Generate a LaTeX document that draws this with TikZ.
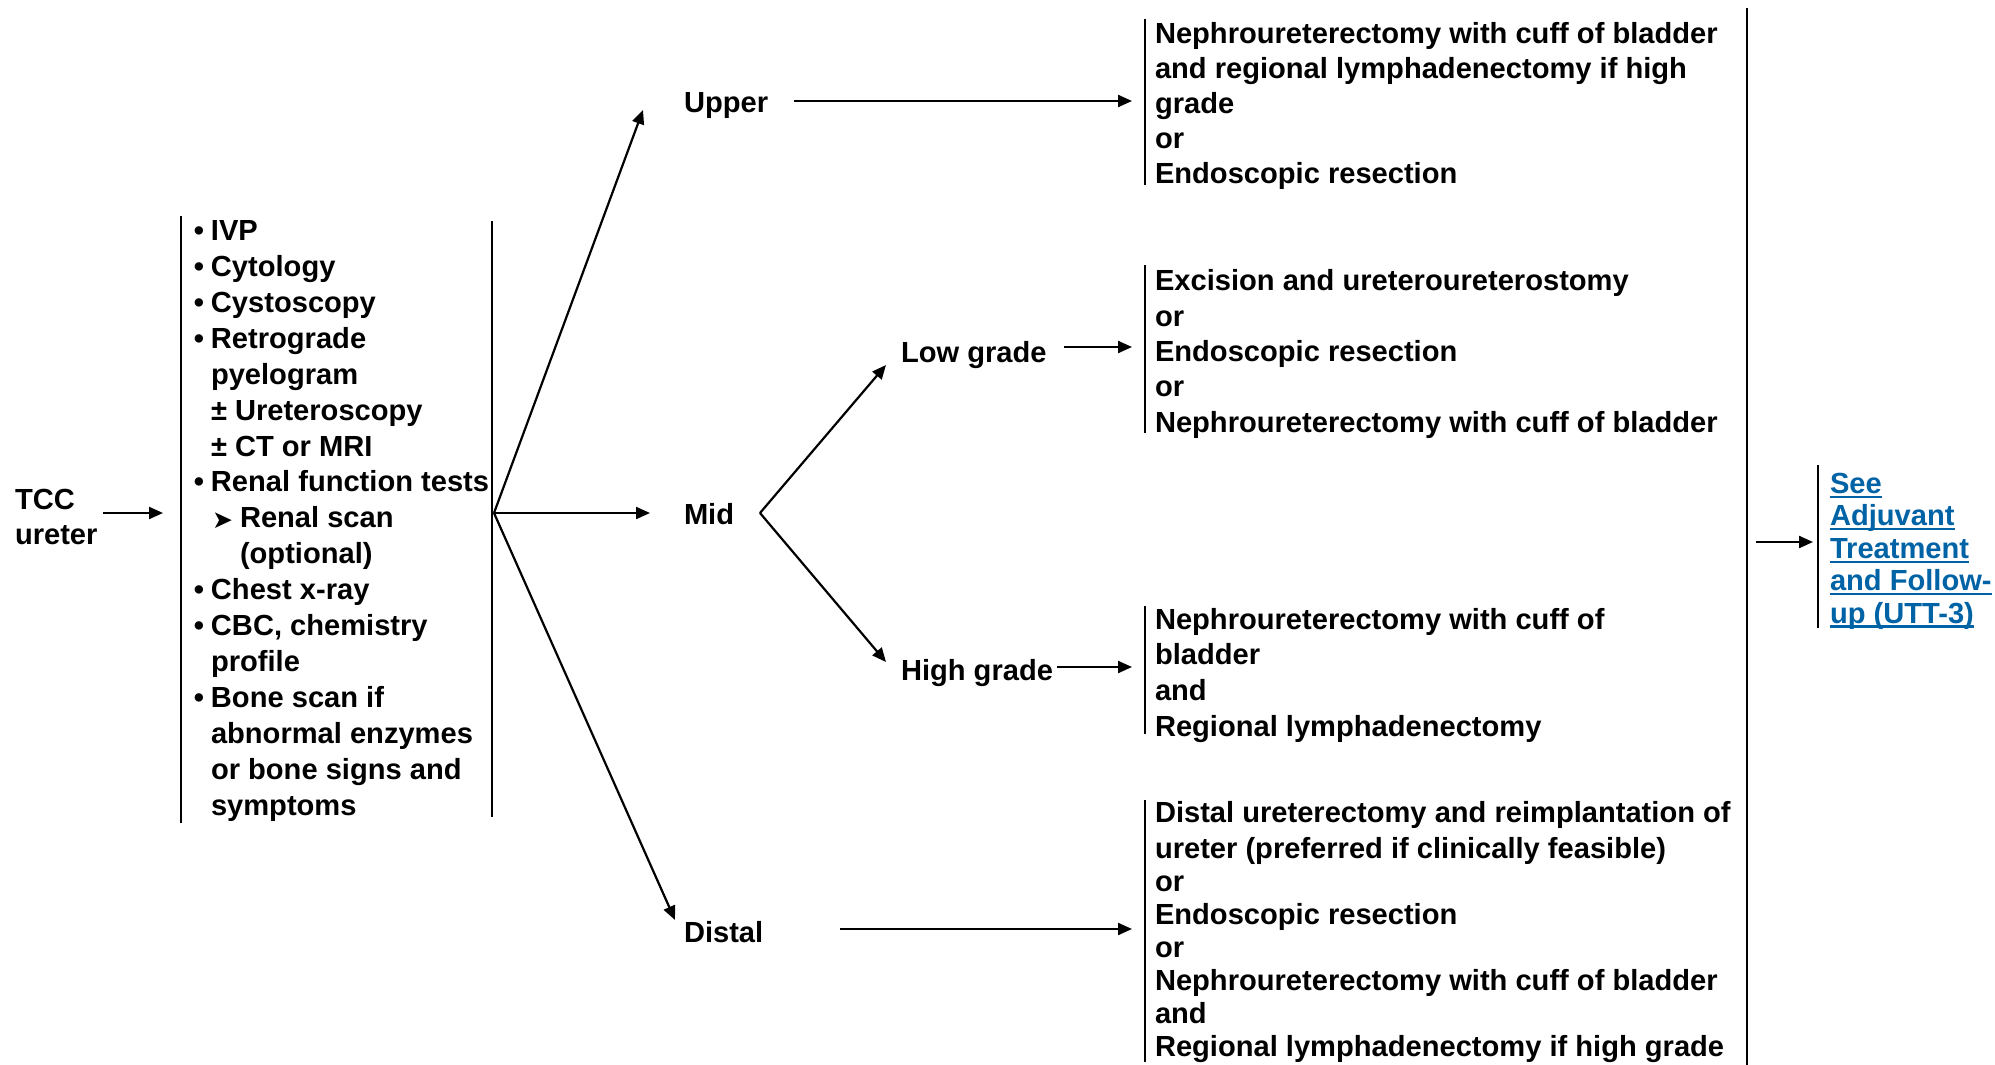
\documentclass[tikz,border=0pt]{standalone}
\usepackage{fontspec}
\setmainfont{Liberation Sans}
\newfontfamily\dingfont{DejaVu Sans}
\usetikzlibrary{arrows.meta}
\definecolor{linkblue}{RGB}{0,99,166}
\newsavebox\lnkbox
\newcommand\lnkline[1]{\sbox\lnkbox{#1}\rlap{\rule[-4.5pt]{\wd\lnkbox}{2.2pt}}\usebox\lnkbox}
\newcommand\bul{\llap{\textbullet\hspace{7pt}}}
\newcommand\subarrow{\makebox[29pt][l]{\hspace{1pt}\raisebox{-0.5pt}{\dingfont\fontsize{25}{25}\selectfont ➤}}}
\begin{document}
\begin{tikzpicture}[x=1pt, y=-1pt,
  every node/.style={inner sep=0pt, outer sep=0pt},
  % multi-line nodes are placed by the baseline of their last line
  txt/.style={anchor=base west, align=left,
    font=\bfseries\fontsize{29.1}{#1}\selectfont},
  txt/.default=35,
  arr/.style={-{Triangle[length=14pt,width=12pt]}, line width=2.2pt},
  bar/.style={line width=2.1pt}]
\useasboundingbox[fill=white] (0,0) rectangle (1995,1065);

% entry and work-up
\node[txt] (tcc) at (15,544) {TCC\\ureter};
\node[txt=35.9] (tests) at (211,815) {%
\bul IVP\\
\bul Cytology\\
\bul Cystoscopy\\
\bul Retrograde\\
pyelogram\\
± Ureteroscopy\\
± CT or MRI\\
\bul Renal function tests\\
\subarrow Renal scan\\
\hspace*{29pt}(optional)\\
\bul Chest x-ray\\
\bul CBC, chemistry\\
profile\\
\bul Bone scan if\\
abnormal enzymes\\
or bone signs and\\
symptoms};
\draw[bar] (181,216) coordinate (testsTL) -- (181,823) coordinate (testsBL);
\draw[bar] (492,221) coordinate (testsTR) -- (492,817) coordinate (testsBR);
\coordinate (testsIn) at (181,513);
\coordinate (fork) at (494,513);

% location
\node[txt] (upper) at (684,112) {Upper};
\node[txt] (mid) at (684,524) {Mid};
\node[txt] (distal) at (684,942) {Distal};
\coordinate (upperTip) at (643,110);
\coordinate (midTip) at (650,513);
\coordinate (distalTip) at (675,920);
\coordinate (midFork) at (760,513);

% grade for mid ureter
\node[txt] (low) at (901,362) {Low grade};
\node[txt] (high) at (901,680) {High grade};
\coordinate (lowTip) at (886,365);
\coordinate (highTip) at (886,662);

% treatment options
\node[txt=35] (optU) at (1155,183) {Nephroureterectomy with cuff of bladder\\
and regional lymphadenectomy if high\\grade\\or\\Endoscopic resection};
\node[txt=35.3] (optL) at (1155,432) {Excision and ureteroureterostomy\\or\\
Endoscopic resection\\or\\Nephroureterectomy with cuff of bladder};
\node[txt=35.6] (optH) at (1155,736) {Nephroureterectomy with cuff of\\bladder\\and\\
Regional lymphadenectomy};
\node[txt=33] (optD) at (1155,1056) {Distal ureterectomy and reimplantation of\\[3pt]
ureter (preferred if clinically feasible)\\or\\Endoscopic resection\\or\\
Nephroureterectomy with cuff of bladder\\and\\Regional lymphadenectomy if high grade};
\draw[bar] (1145,19) coordinate (optUT) -- (1145,185) coordinate (optUB);
\draw[bar] (1145,265) coordinate (optLT) -- (1145,433) coordinate (optLB);
\draw[bar] (1145,606) coordinate (optHT) -- (1145,734) coordinate (optHB);
\draw[bar] (1145,800) coordinate (optDT) -- (1145,1062) coordinate (optDB);
\coordinate (optUIn) at (1145,101);
\coordinate (optLIn) at (1145,347);
\coordinate (optHIn) at (1145,667);
\coordinate (optDIn) at (1145,929);

% follow-up
\draw[line width=2.4pt] (1747,8) coordinate (allT) -- (1747,1065) coordinate (allB);
\coordinate (allOut) at (1747,542);
\node[txt=32.4, text=linkblue] (link) at (1830,623) {\lnkline{See}\\\lnkline{Adjuvant}\\
\lnkline{Treatment}\\\lnkline{and Follow-}\\\lnkline{up (UTT-3)}};
\draw[bar] (1818,465) coordinate (linkT) -- (1818,628) coordinate (linkB);
\coordinate (linkIn) at (1818,542);

% connectors
\draw[arr, shorten >=18pt] (tcc.east |- testsIn) ++(6,0) -- (testsIn);
\draw[arr] (fork) -- (upperTip);
\draw[arr] (fork) -- (midTip);
\draw[arr] (fork) -- (distalTip);
\draw[arr] (midFork) -- (lowTip);
\draw[arr] (midFork) -- (highTip);
\draw[arr, shorten >=13pt] (upper.east |- optUIn) ++(26,0) -- (optUIn);
\draw[arr, shorten >=13pt] (low.east |- optLIn) ++(17,0) -- (optLIn);
\draw[arr, shorten >=13pt] (high.east |- optHIn) ++(4,0) -- (optHIn);
\draw[arr, shorten >=13pt] (distal.east |- optDIn) ++(77,0) -- (optDIn);
\draw[arr, shorten >=5pt] (allOut) ++(9,0) -- (linkIn);
\end{tikzpicture}
\end{document}
